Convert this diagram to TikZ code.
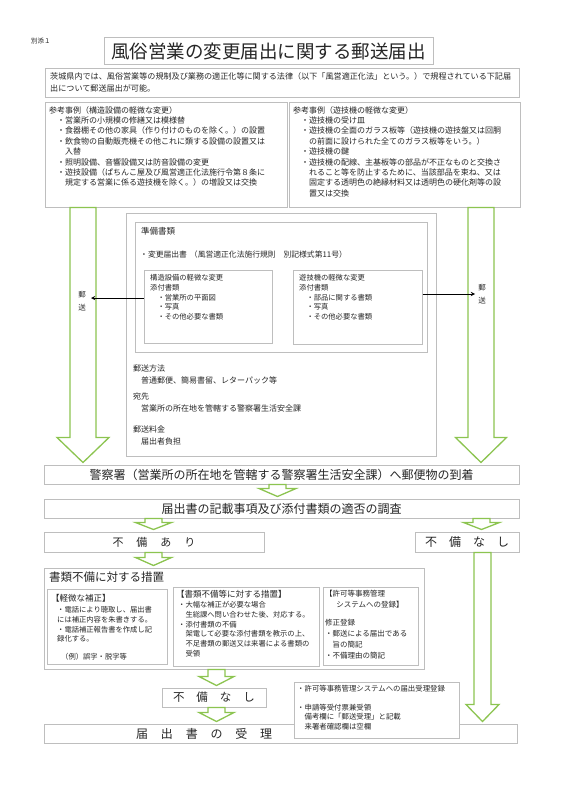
\documentclass[tikz,border=0pt]{standalone}
\usepackage{fontspec}
\setmainfont{Noto Sans CJK JP}
\usepackage{tikz}
\usetikzlibrary{arrows, calc}
\definecolor{flowgreen}{RGB}{140,196,80}
\definecolor{boxgray}{RGB}{190,190,190}
% block arrow: centre x, from node, to node, shaft half width, head half width, head length
\newcommand{\greenarrow}[6]{%
  \draw[garrow] let \p1=(#2.south), \p2=(#3.north) in
    ({(#1-#4)*1pt},\y1) -- ({(#1-#4)*1pt},{\y2+(2+#6)*1pt}) -- ({(#1-#5)*1pt},{\y2+(2+#6)*1pt})
    -- ({#1*1pt},{\y2+2pt}) -- ({(#1+#5)*1pt},{\y2+(2+#6)*1pt}) -- ({(#1+#4)*1pt},{\y2+(2+#6)*1pt})
    -- ({(#1+#4)*1pt},\y1) -- cycle;}

\begin{document}
\begin{tikzpicture}[
    x=1pt, y=-1pt,
    box/.style={rectangle, draw=boxgray, line width=1pt, fill=white, inner sep=0pt, text=black!85},
    txt/.style={inner sep=0pt, anchor=north west, align=left, text=black!85},
    reftxt/.style={txt, font=\fontsize{8}{10.4}\selectfont},
    smalltxt/.style={txt, font=\fontsize{7.3}{9.7}\selectfont},
    mailtxt/.style={txt, font=\fontsize{8}{12}\selectfont},
    bigtxt/.style={font=\fontsize{12}{14}\selectfont},
    garrow/.style={draw=flowgreen, line width=1.3pt, fill=white, line join=miter},
    arrow/.style={-stealth, line width=0.9pt}
]
    \useasboundingbox (0,0) rectangle (566,800);

    \node[txt, anchor=west, font=\fontsize{6.5}{8}\selectfont] (annex) at (31,41) {別添１};
    \node[box, minimum width=329pt, minimum height=27pt, font=\fontsize{18.5}{20}\selectfont] (title) at (268.5,51.5) {風俗営業の変更届出に関する郵送届出};
    \node[box, minimum width=474pt, minimum height=28pt] (intro) at (282,83) {};
    \node[txt, font=\fontsize{8.1}{12}\selectfont] (introtxt) at (50,72) {茨城県内では、風俗営業等の規制及び業務の適正化等に関する法律（以下「風営適正化法」という。）で規程されている下記届\\出について郵送届出が可能。};

    \node[box, minimum width=242pt, minimum height=105pt] (refL) at (166,154.5) {};
    \node[reftxt] (refLtxt) at (49,106) {参考事例（構造設備の軽微な変更）\\
        　・営業所の小規模の修繕又は模様替\\
        　・食器棚その他の家具（作り付けのものを除く。）の設置\\
        　・飲食物の自動販売機その他これに類する設備の設置又は\\
        　　入替\\
        　・照明設備、音響設備又は防音設備の変更\\
        　・遊技設備（ぱちんこ屋及び風営適正化法施行令第８条に\\
        　　規定する営業に係る遊技機を除く。）の増設又は交換};
    \node[box, minimum width=231pt, minimum height=105pt] (refR) at (404.5,154.5) {};
    \node[reftxt] (refRtxt) at (293,106) {参考事例（遊技機の軽微な変更）\\
        　・遊技機の受け皿\\
        　・遊技機の全面のガラス板等（遊技機の遊技盤又は回胴\\
        　　の前面に設けられた全てのガラス板等をいう。）\\
        　・遊技機の鍵\\
        　・遊技機の配線、主基板等の部品が不正なものと交換さ\\
        　　れること等を防止するために、当該部品を束ね、又は\\
        　　固定する透明色の絶縁材料又は透明色の硬化剤等の設\\
        　　置又は交換};

    \node[box, minimum width=310pt, minimum height=243pt] (docsout) at (281,334.5) {};
    \node[box, minimum width=292pt, minimum height=130pt] (docsin) at (281,287) {};
    \node[txt, anchor=west, font=\fontsize{8.5}{10}\selectfont] (docstitle) at (141,231) {準備書類};
    \node[txt, anchor=west, font=\fontsize{7.8}{10}\selectfont] (notice) at (140,255) {・変更届出書\hspace{3pt}（風営適正化法施行規則　別記様式第11号）};
    \node[box, minimum width=128pt, minimum height=73pt] (kouzou) at (208,306.5) {};
    \node[smalltxt] (kouzoutxt) at (150,274.4) {構造設備の軽微な変更\\添付書類\\　・営業所の平面図\\　・写真\\　・その他必要な書類};
    \node[box, minimum width=129pt, minimum height=74pt] (yugi) at (357.5,307) {};
    \node[smalltxt] (yugitxt) at (299,274.4) {遊技機の軽微な変更\\添付書類\\　・部品に関する書類\\　・写真\\　・その他必要な書類};
    \node[mailtxt] (mailhow) at (133,365) {郵送方法\\　普通郵便、簡易書留、レターパック等};
    \node[mailtxt] (mailto) at (133,393) {宛先\\　営業所の所在地を管轄する警察署生活安全課};
    \node[mailtxt] (mailfee) at (133,426) {郵送料金\\　届出者負担};

    \node[box, bigtxt, minimum width=475pt, minimum height=19pt] (police) at (281.5,474.5) {警察署（営業所の所在地を管轄する警察署生活安全課）へ郵便物の到着};
    \node[box, bigtxt, minimum width=475pt, minimum height=19pt] (survey) at (281.5,508.5) {届出書の記載事項及び添付書類の適否の調査};
    \node[box, minimum width=220pt, minimum height=20pt, font=\fontsize{11}{13}\selectfont] (fubiari) at (154,542) {不\hspace{13pt}備\hspace{13pt}あ\hspace{13pt}り};
    \node[box, minimum width=104pt, minimum height=20pt, font=\fontsize{12}{14}\selectfont] (fubinashiR) at (467,542) {不\hspace{12pt}備\hspace{12pt}な\hspace{12pt}し};

    \node[box, minimum width=380pt, minimum height=101pt] (measures) at (234,618.5) {};
    \node[txt, anchor=west, font=\fontsize{11.5}{13}\selectfont] (measurestitle) at (49,577) {書類不備に対する措置};
    \node[box, minimum width=120pt, minimum height=75pt] (minor) at (107,626.5) {};
    \node[txt, anchor=west, font=\fontsize{8.5}{10}\selectfont] (minortitle) at (51,598) {【軽微な補正】};
    \node[smalltxt] (minortxt) at (57,606.4) {・電話により聴取し、届出書\\には補正内容を朱書きする。\\・電話補正報告書を作成し記\\録化する。};
    \node[txt, anchor=west, font=\fontsize{7.3}{9}\selectfont] (example) at (61,657) {（例）誤字・脱字等};
    \node[box, minimum width=146pt, minimum height=79pt] (docfix) at (246,626.5) {};
    \node[txt, anchor=west, font=\fontsize{8.5}{10}\selectfont] (docfixtitle) at (176,594) {【書類不備等に対する措置】};
    \node[smalltxt] (docfixtxt) at (178,601.4) {・大幅な補正が必要な場合\\　生総課へ問い合わせた後、対応する。\\・添付書類の不備\\　架電して必要な添付書類を教示の上、\\　不足書類の郵送又は来署による書類の\\　受領};
    \node[box, minimum width=95pt, minimum height=78pt] (sysreg) at (370.5,626) {};
    \node[txt, font=\fontsize{7.5}{11}\selectfont] (sysregtxt) at (325,590.2) {【許可等事務管理\\\hspace{1.5em}システムへの登録】\\[7pt]修正登録\\・郵送による届出である\\　旨の簡記\\・不備理由の簡記};

    \node[box, minimum width=104pt, minimum height=19pt, font=\fontsize{11.5}{13}\selectfont] (fubinashiL) at (214,697.5) {不\hspace{12pt}備\hspace{12pt}な\hspace{12pt}し};
    \node[box, minimum width=473pt, minimum height=19pt] (accept) at (280.5,733.5) {};
    \node[txt, anchor=west, font=\fontsize{12}{14}\selectfont] (accepttxt) at (136,733.5) {届\hspace{12.8pt}出\hspace{12.8pt}書\hspace{12.8pt}の\hspace{12.8pt}受\hspace{12.8pt}理};
    \node[box, minimum width=165pt, minimum height=56pt] (note) at (376.5,710) {};
    \node[txt, font=\fontsize{7.4}{9.5}\selectfont] (notetxt) at (297,685.3) {・許可等事務管理システムへの届出受理登録\\[9pt]・申請等受付票兼受領\\　備考欄に「郵送受理」と記載\\　来署者確認欄は空欄};

    \greenarrow{83}{refL}{police}{13}{26}{25}
    \greenarrow{481}{refR}{police}{13}{25.5}{25}
    \greenarrow{277.5}{police}{survey}{8.5}{18.5}{8}
    \greenarrow{153.5}{survey}{fubiari}{8.5}{18}{7}
    \greenarrow{481.5}{survey}{fubinashiR}{8.5}{18}{7}
    \greenarrow{153.5}{fubiari}{measures}{8.5}{18}{8}
    \greenarrow{216.5}{measures}{fubinashiL}{8.5}{17.5}{9}
    \greenarrow{216.5}{fubinashiL}{accept}{8.5}{17.5}{9}
    \greenarrow{482.5}{fubinashiR}{accept}{8.5}{16.5}{17}

    \node[txt, anchor=center, align=center, font=\fontsize{7.5}{13}\selectfont] (postL) at (82,301.5) {郵\\送};
    \node[txt, anchor=center, align=center, font=\fontsize{7.5}{13}\selectfont] (postR) at (482,294) {郵\\送};
    \coordinate (mailL) at (91,298);
    \coordinate (mailR) at (475,294);
    \draw[arrow] (kouzou.west |- mailL) -- (mailL);
    \draw[arrow] (yugi.east |- mailR) -- (mailR);
\end{tikzpicture}
\end{document}
